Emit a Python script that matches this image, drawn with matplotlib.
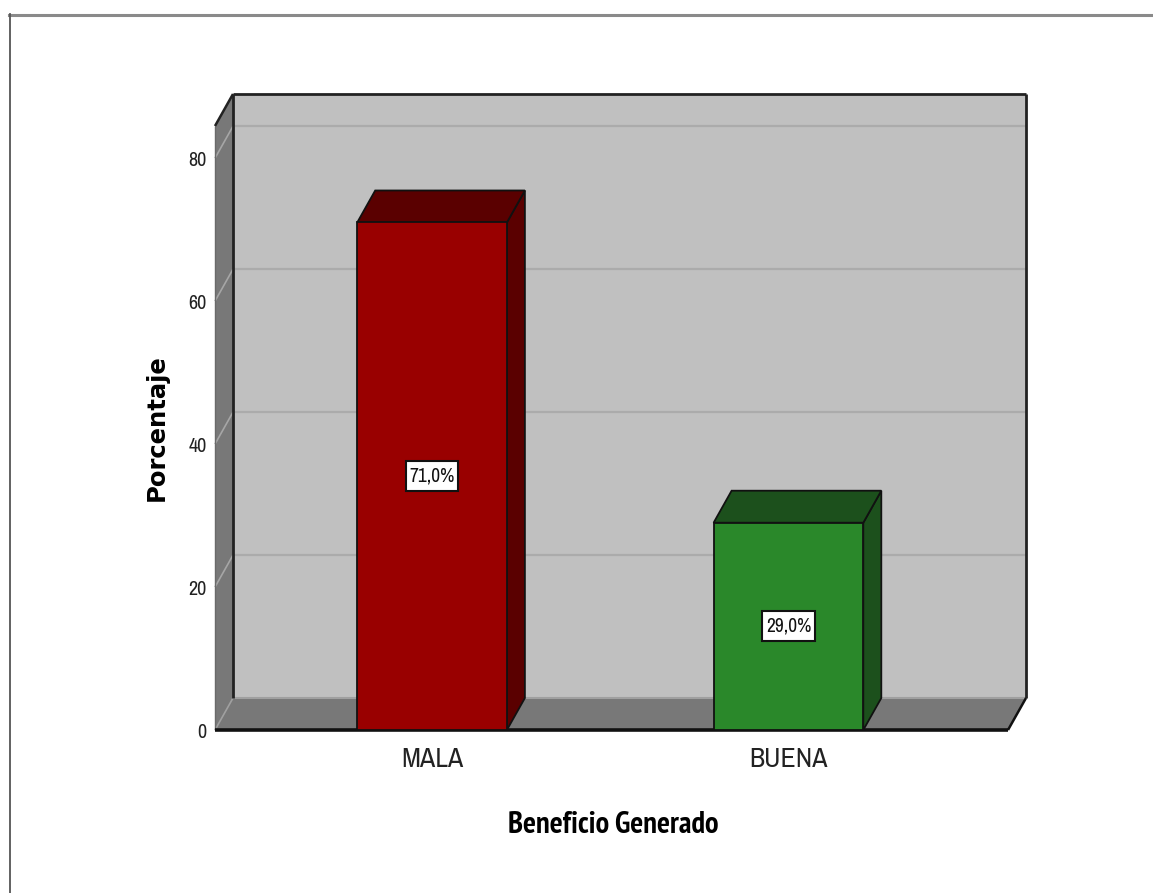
import matplotlib
matplotlib.use("Agg")
import matplotlib.pyplot as plt
from matplotlib.patches import Polygon, Rectangle
from matplotlib.lines import Line2D

# ---- data ----
categories = ["MALA", "BUENA"]
percentages = [71.0, 29.0]
value_labels = ["71,0%", "29,0%"]
yticks = [0, 20, 40, 60, 80]
x_title = "Beneficio Generado"
y_title = "Porcentaje"

# ---- styling ----
front_colors = ["#990000", "#2A882A"]
shade_colors = ["#5A0000", "#1C501C"]
WALL = "#C0C0C0"
FLOOR = "#787878"
GRID = "#ABABAB"
NARROW = ["Archivo Narrow", "Liberation Sans Narrow", "DejaVu Sans"]
NARROW_BOLD = ["PT Sans Narrow", "Archivo Narrow", "DejaVu Sans"]

W, H = 1153, 893
fig = plt.figure(figsize=(W / 100, H / 100), dpi=100)
ax = fig.add_axes([215 / W, (H - 730) / H, (1008 - 215) / W, (730 - 126) / H])
ax.set_xlim(-0.609, 1.616)
ax.set_ylim(0, 84.5)
ax.patch.set_visible(False)
for s in ax.spines.values():
    s.set_visible(False)

DEPTH = (18, 32)  # screen offset of the back plane, in pixels


def back(x, y):
    px = ax.transData.transform((x, y))
    px = (px[0] + DEPTH[0], px[1] + DEPTH[1])
    return tuple(ax.transData.inverted().transform(px))


def poly(pts, fc, ec="none", lw=0, z=1):
    ax.add_patch(Polygon(pts, closed=True, facecolor=fc, edgecolor=ec,
                         linewidth=lw, clip_on=False, zorder=z,
                         joinstyle="miter"))


def seg(p, q, color, lw, z=2):
    ax.add_line(Line2D([p[0], q[0]], [p[1], q[1]], color=color, lw=lw,
                       clip_on=False, zorder=z, solid_capstyle="butt"))


x0, x1 = ax.get_xlim()
y0, y1 = ax.get_ylim()

# back wall
poly([back(x0, 0), back(x1, 0), back(x1, y1), back(x0, y1)], WALL, z=1)
for v in yticks[1:]:
    seg(back(x0, v), back(x1, v), GRID, 1.6, z=1.5)

# left side wall
poly([(x0, 0), (x0, y1), back(x0, y1), back(x0, 0)], FLOOR, z=1)
for v in yticks[1:]:
    seg((x0, v), back(x0, v), "#A6A6A6", 1.2, z=1.5)

# floor
poly([(x0, 0), (x1, 0), back(x1, 0), back(x0, 0)], FLOOR, z=1)

# wall / floor edges
seg(back(x0, 0), back(x1, 0), "#A0A0A0", 1.5)
seg((x0, 0), back(x0, 0), "#A0A0A0", 1.2)
seg(back(x0, 0), back(x0, y1), "#222222", 2.0)
seg(back(x0, y1), back(x1, y1), "#222222", 2.0)
seg(back(x1, y1), back(x1, 0), "#222222", 2.0)
seg((x0, y1), back(x0, y1), "#222222", 1.8)
seg((x0, 0), (x0, y1), "#6A6A6A", 1.0)
seg((x1, 0), back(x1, 0), "#111111", 1.8)
seg((x0, 0), (x1, 0), "#111111", 2.6, z=2)

# 3-D bars
bar_w = 0.42
for i, (v, fc, sc) in enumerate(zip(percentages, front_colors, shade_colors)):
    l, r = i - bar_w / 2, i + bar_w / 2
    poly([(r, 0), back(r, 0), back(r, v), (r, v)], sc, "#111111", 1.3, z=3)
    poly([(l, v), (r, v), back(r, v), back(l, v)], sc, "#111111", 1.3, z=3)
    poly([(l, 0), (r, 0), (r, v), (l, v)], fc, "#111111", 1.3, z=4)

# value labels (boxes are added once the text extents are known)
texts = []
for i, (v, lab) in enumerate(zip(percentages, value_labels)):
    t = ax.text(i, v / 2, lab, ha="center", va="center", fontsize=14,
                family=NARROW, color="#111111", zorder=6)
    texts.append(t)

# axes ticks and titles
ax.set_yticks(yticks)
ax.set_yticklabels([str(t) for t in yticks], family=NARROW, fontsize=14.5,
                   color="#222222")
ax.set_xticks(range(len(categories)))
ax.set_xticklabels(categories, family=NARROW, fontsize=20, color="#222222")
ax.tick_params(axis="y", length=0, pad=6)
ax.tick_params(axis="x", length=0, pad=12)

ax.set_xlabel(x_title, family=NARROW_BOLD, fontweight="bold", fontsize=22)
ax.xaxis.label.set_va("center")
ax.xaxis.set_label_coords(0.5020, -(825 - 730) / 604)
ax.set_ylabel(y_title, family="DejaVu Sans", fontweight="bold", fontsize=17.5)
ax.yaxis.label.set_va("center")
ax.yaxis.set_label_coords((157 - 215) / 793, 0.5)

# outer frame (top and left rules)
fig.add_artist(Line2D([9 / W, 1.0], [1 - 14.5 / H, 1 - 14.5 / H],
                      color="#8A8A8A", lw=2.2, transform=fig.transFigure))
fig.add_artist(Line2D([9.5 / W, 9.5 / W], [1 - 14 / H, 0.0],
                      color="#555555", lw=1.3, transform=fig.transFigure))

# white framed boxes behind the value labels
fig.canvas.draw()
inv = fig.transFigure.inverted()
for t in texts:
    ext = t.get_window_extent()
    cx = (ext.x0 + ext.x1) / 2
    cy = (ext.y0 + ext.y1) / 2
    bw, bh = ext.width + 7, 30
    (fx0, fy0) = inv.transform((cx - bw / 2, cy - bh / 2))
    (fx1, fy1) = inv.transform((cx + bw / 2, cy + bh / 2))
    ax.add_patch(Rectangle((fx0, fy0), fx1 - fx0, fy1 - fy0,
                           transform=fig.transFigure, facecolor="white",
                           edgecolor="#111111", lw=1.5, zorder=5,
                           clip_on=False))

fig.savefig("out.png", dpi=100)
